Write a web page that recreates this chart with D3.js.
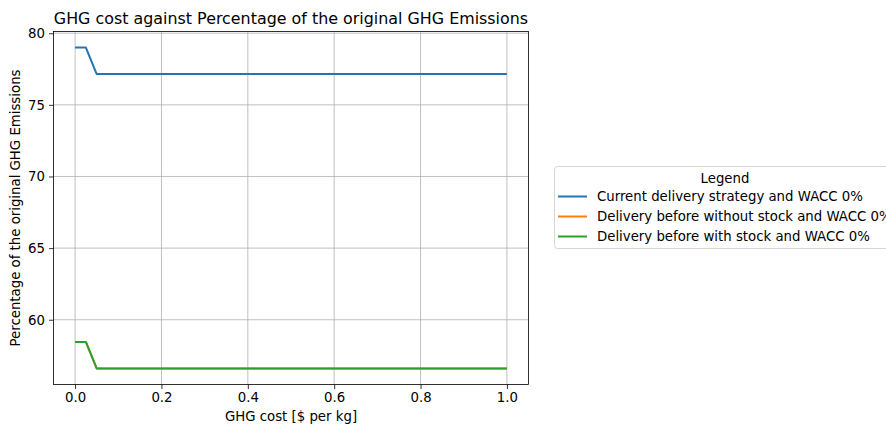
<!DOCTYPE html>
<html>
<head>
<meta charset="utf-8">
<script src="https://cdn.jsdelivr.net/npm/d3@7"></script>
<style>
  html, body { margin: 0; padding: 0; background: #fff; overflow: hidden; }
  svg { display: block; font-family: "DejaVu Sans", sans-serif; }
</style>
</head>
<body>
<svg id="chart" width="886" height="428"></svg>
<script>
// GHG cost values [$ per kg]
const ghgCost = [0, 0.025, 0.05, 0.1, 0.2, 0.3, 0.4, 0.5, 0.6, 0.7, 0.8, 0.9, 1.0];

// Percentage of the original GHG emissions for each strategy
const currentStrategy   = [79.0, 79.0, 77.15, 77.15, 77.15, 77.15, 77.15, 77.15, 77.15, 77.15, 77.15, 77.15, 77.15];
const beforeNoStock     = [58.45, 58.45, 56.6, 56.6, 56.6, 56.6, 56.6, 56.6, 56.6, 56.6, 56.6, 56.6, 56.6];
const beforeWithStock   = [58.45, 58.45, 56.6, 56.6, 56.6, 56.6, 56.6, 56.6, 56.6, 56.6, 56.6, 56.6, 56.6];

const seriesNames = [
  "Current delivery strategy and WACC 0%",
  "Delivery before without stock and WACC 0%",
  "Delivery before with stock and WACC 0%"
];
const seriesColors = ["#1f77b4", "#ff7f0e", "#2ca02c"];
const seriesValues = [currentStrategy, beforeNoStock, beforeWithStock];

const xTicks = [0, 0.2, 0.4, 0.6, 0.8, 1.0];
const yTicks = [60, 65, 70, 75, 80];

const svg = d3.select("#chart");
const plot = { left: 53.5, top: 31.5, right: 528.5, bottom: 384.5 };

// 5% margins around the data, as the axes autoscale would give
const xMin = d3.min(ghgCost), xMax = d3.max(ghgCost);
const allY = seriesValues.flat();
const yMin = d3.min(allY), yMax = d3.max(allY);
const xPad = (xMax - xMin) * 0.05, yPad = (yMax - yMin) * 0.05;

const x = d3.scaleLinear().domain([xMin - xPad, xMax + xPad]).range([plot.left, plot.right]);
const y = d3.scaleLinear().domain([yMin - yPad, yMax + yPad]).range([plot.bottom, plot.top]);

// grid lines
const grid = svg.append("g").attr("stroke", "#b0b0b0").attr("stroke-width", 0.8);
xTicks.forEach(t => grid.append("line")
  .attr("x1", x(t)).attr("x2", x(t)).attr("y1", plot.top).attr("y2", plot.bottom));
yTicks.forEach(t => grid.append("line")
  .attr("x1", plot.left).attr("x2", plot.right).attr("y1", y(t)).attr("y2", y(t)));

// series lines
const line = d3.line().x((d, i) => x(ghgCost[i])).y(d => y(d));
seriesValues.forEach((vals, k) => {
  svg.append("path")
    .datum(vals)
    .attr("fill", "none")
    .attr("stroke", seriesColors[k])
    .attr("stroke-width", 2)
    .attr("stroke-linejoin", "round")
    .attr("d", line);
});

// axes
const xAxis = d3.axisBottom(x).tickValues(xTicks).tickFormat(d3.format(".1f")).tickSize(4.5).tickPadding(4);
const yAxis = d3.axisLeft(y).tickValues(yTicks).tickFormat(d3.format("d")).tickSize(4.5).tickPadding(4);

const gx = svg.append("g").attr("transform", `translate(0,${plot.bottom})`).call(xAxis);
const gy = svg.append("g").attr("transform", `translate(${plot.left},0)`).call(yAxis);
[gx, gy].forEach(g => {
  g.select(".domain").remove();
  g.selectAll(".tick line").attr("stroke", "#000").attr("stroke-width", 0.8);
  g.selectAll(".tick text").attr("fill", "#000").style("font-size", "13.3px")
    .style("font-family", "DejaVu Sans, sans-serif");
});

// frame
svg.append("rect")
  .attr("x", plot.left).attr("y", plot.top)
  .attr("width", plot.right - plot.left).attr("height", plot.bottom - plot.top)
  .attr("fill", "none").attr("stroke", "#000").attr("stroke-width", 0.8);

// title and axis labels
const cx = (plot.left + plot.right) / 2;
svg.append("text").attr("x", cx).attr("y", 24).attr("text-anchor", "middle")
  .style("font-size", "15.9px").text("GHG cost against Percentage of the original GHG Emissions");
svg.append("text").attr("x", cx).attr("y", 421).attr("text-anchor", "middle")
  .style("font-size", "13.3px").text("GHG cost [$ per kg]");
svg.append("text")
  .attr("transform", `translate(20,${(plot.top + plot.bottom) / 2}) rotate(-90)`)
  .attr("text-anchor", "middle")
  .style("font-size", "13.3px").text("Percentage of the original GHG Emissions");

// legend (its right part runs past the page edge)
const lg = svg.append("g");
lg.append("rect")
  .attr("x", 554.5).attr("y", 166.5).attr("width", 345).attr("height", 82)
  .attr("rx", 3).attr("fill", "#fff").attr("stroke", "#d6d6d6").attr("stroke-width", 1);
lg.append("text").attr("x", 725).attr("y", 182.5).attr("text-anchor", "middle")
  .style("font-size", "13.3px").text("Legend");
seriesNames.forEach((name, k) => {
  const yy = 196.5 + k * 20;
  lg.append("line").attr("x1", 558).attr("x2", 587).attr("y1", yy).attr("y2", yy)
    .attr("stroke", seriesColors[k]).attr("stroke-width", 2);
  lg.append("text").attr("x", 597).attr("y", yy + 4.8)
    .style("font-size", "13.3px").text(name);
});
</script>
</body>
</html>
